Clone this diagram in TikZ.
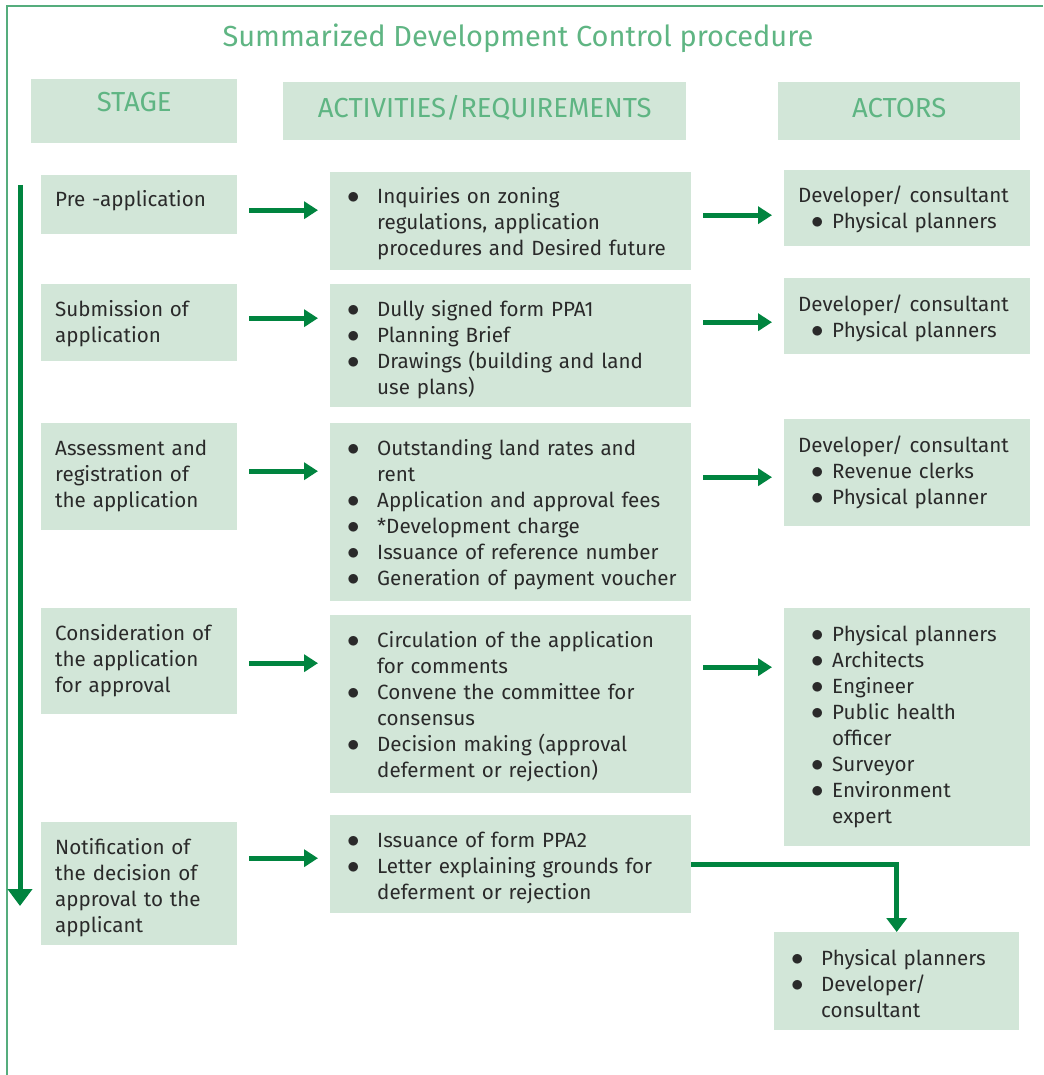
\documentclass[tikz,border=0pt]{standalone}
\usepackage{fontspec}
\setmainfont{Fira Sans}
\usetikzlibrary{arrows.meta,positioning,calc}
\definecolor{boxgreen}{HTML}{D2E6D8}
\definecolor{headgreen}{HTML}{5FB583}
\definecolor{flowgreen}{HTML}{00843F}
\definecolor{framegreen}{HTML}{55AD7D}
\definecolor{bodytext}{HTML}{2A2A2A}
\newcommand{\dotbul}{\scalebox{1.2}{$\bullet$}}
\newcommand{\itm}[1]{\hangindent=33pt\hangafter=1\noindent\hspace*{3pt}\makebox[30pt][l]{\dotbul}#1\par}
\newcommand{\aitm}[1]{\hangindent=34pt\hangafter=1\noindent\hspace*{13pt}\makebox[21pt][l]{\dotbul}#1\par}
\newcommand{\abul}{\newline\hspace*{13pt}\makebox[21pt][l]{\dotbul}}

\begin{document}
\begin{tikzpicture}[x=1pt, y=-1pt,
    box/.style={fill=boxgreen, anchor=north west, inner sep=0pt},
    txt/.style={anchor=base west, inner sep=0pt, align=left, text width=#1,
      font=\fontsize{20.6}{26}\selectfont, text=bodytext},
    head/.style={anchor=base, inner sep=0pt, text=headgreen, font=\fontsize{27.5}{30}\selectfont},
    flow/.style={draw=flowgreen, line width=5pt, -{Triangle[length=14pt,width=17pt]},
      shorten <=12pt, shorten >=12pt}
    ]
  \useasboundingbox (0,0) rectangle (1043,1075);
  \draw [framegreen, line width=2pt] (7,1075) -- (7,6) -- (1043,6);
  \node [head, font=\fontsize{29}{32}\selectfont] (title) at (518,47) {Summarized Development Control procedure};

  \node [box, minimum width=206, minimum height=64] (hs) at (31,79) {};
  \node [box, minimum width=403, minimum height=58] (ha) at (283,82) {};
  \node [box, minimum width=242, minimum height=58] (hr) at (778,82) {};
  \node [head] (hst) at ([yshift=-33]hs.north) {STAGE};
  \node [head] (hat) at ([yshift=-36]ha.north) {ACTIVITIES/REQUIREMENTS};
  \node [head] (hrt) at ([yshift=-36]hr.north) {ACTORS};

  \node [box, minimum width=196, minimum height=59] (s1) at (41,175) {};
  \node [box, minimum width=196, minimum height=77] (s2) at (41,284) {};
  \node [box, minimum width=196, minimum height=107] (s3) at (41,423) {};
  \node [box, minimum width=196, minimum height=106] (s4) at (41,608) {};
  \node [box, minimum width=196, minimum height=123] (s5) at (41,822) {};

  \node [box, minimum width=361, minimum height=98] (a1) at (330,172) {};
  \node [box, minimum width=361, minimum height=123] (a2) at (330,284) {};
  \node [box, minimum width=361, minimum height=178] (a3) at (330,423) {};
  \node [box, minimum width=361, minimum height=178] (a4) at (330,615) {};
  \node [box, minimum width=361, minimum height=98] (a5) at (330,815) {};

  \node [box, minimum width=246, minimum height=76] (r1) at (784,170) {};
  \node [box, minimum width=246, minimum height=76] (r2) at (784,278) {};
  \node [box, minimum width=246, minimum height=107] (r3) at (784,419) {};
  \node [box, minimum width=246, minimum height=238] (r4) at (784,608) {};
  \node [box, minimum width=245, minimum height=98] (r5) at (774,932) {};

  \node [txt=178] (s1t) at ([xshift=14,yshift=-32]s1.north west) {Pre -application};
  \node [txt=178] (s2t) at ([xshift=14,yshift=-32]s2.north west) {Submission of\\application};
  \node [txt=178] (s3t) at ([xshift=14,yshift=-32]s3.north west) {Assessment and\\registration of\\the application};
  \node [txt=178] (s4t) at ([xshift=14,yshift=-32]s4.north west) {Consideration of\\the application\\for approval};
  \node [txt=178] (s5t) at ([xshift=14,yshift=-32]s5.north west) {Notification of\\the decision of\\approval to the\\applicant};

  \node [txt=345] (a1t) at ([xshift=14,yshift=-32]a1.north west) {\itm{Inquiries on zoning\newline regulations, application\newline procedures and Desired future}};
  \node [txt=345] (a2t) at ([xshift=14,yshift=-32]a2.north west) {\itm{Dully signed form PPA1}
    \itm{Planning Brief}
    \itm{Drawings (building and land\newline use plans)}};
  \node [txt=345] (a3t) at ([xshift=14,yshift=-32]a3.north west) {\itm{Outstanding land rates and\newline rent}
    \itm{Application and approval fees}
    \itm{*Development charge}
    \itm{Issuance of reference number}
    \itm{Generation of payment voucher}};
  \node [txt=345] (a4t) at ([xshift=14,yshift=-32]a4.north west) {\itm{Circulation of the application\newline for comments}
    \itm{Convene the committee for\newline consensus}
    \itm{Decision making (approval\newline deferment or rejection)}};
  \node [txt=345] (a5t) at ([xshift=14,yshift=-32]a5.north west) {\itm{Issuance of form PPA2}
    \itm{Letter explaining grounds for\newline deferment or rejection}};

  \node [txt=228] (r1t) at ([xshift=14,yshift=-33]r1.north west) {Developer/ consultant\abul Physical planners};
  \node [txt=228] (r2t) at ([xshift=14,yshift=-33]r2.north west) {Developer/ consultant\abul Physical planners};
  \node [txt=228] (r3t) at ([xshift=14,yshift=-33]r3.north west) {Developer/ consultant\abul Revenue clerks\abul Physical planner};
  \node [txt=228] (r4t) at ([xshift=14,yshift=-33]r4.north west) {\aitm{Physical planners}
    \aitm{Architects}
    \aitm{Engineer}
    \aitm{Public health\newline officer}
    \aitm{Surveyor}
    \aitm{Environment\newline expert}};
  \node [txt=228] (r5t) at ([xshift=14,yshift=-33]r5.north west) {\itm{Physical planners}
    \itm{Developer/\newline consultant}};

  \draw [flow] ([yshift=-5.5]s1.east) -- ([yshift=-5.5]s1.east -| a1.west);
  \draw [flow] ([yshift=4.5]s2.east) -- ([yshift=4.5]s2.east -| a2.west);
  \draw [flow] ([yshift=5.5]s3.east) -- ([yshift=5.5]s3.east -| a3.west);
  \draw [flow] ([yshift=-2]s4.east) -- ([yshift=-2]s4.east -| a4.west);
  \draw [flow] ([yshift=25.5]s5.east) -- ([yshift=25.5]s5.east -| a5.west);

  \draw [flow] ([yshift=6]a1.east) -- ([yshift=6]a1.east -| r1.west);
  \draw [flow] ([yshift=23.5]a2.east) -- ([yshift=23.5]a2.east -| r2.west);
  \draw [flow] ([yshift=35]a3.east) -- ([yshift=35]a3.east -| r3.west);
  \draw [flow] ([yshift=37]a4.east) -- ([yshift=37]a4.east -| r4.west);
  \draw [flow, shorten <=0pt, shorten >=0pt, -{Triangle[length=14pt,width=20pt]}] (a5.east) -| (r5.north);

  \coordinate (top) at (20,185);
  \coordinate (bot) at (20,906);
  \draw [flow, shorten <=0pt, shorten >=0pt, -{Triangle[length=17pt,width=24pt]}] (top) -- (bot);
\end{tikzpicture}
\end{document}
